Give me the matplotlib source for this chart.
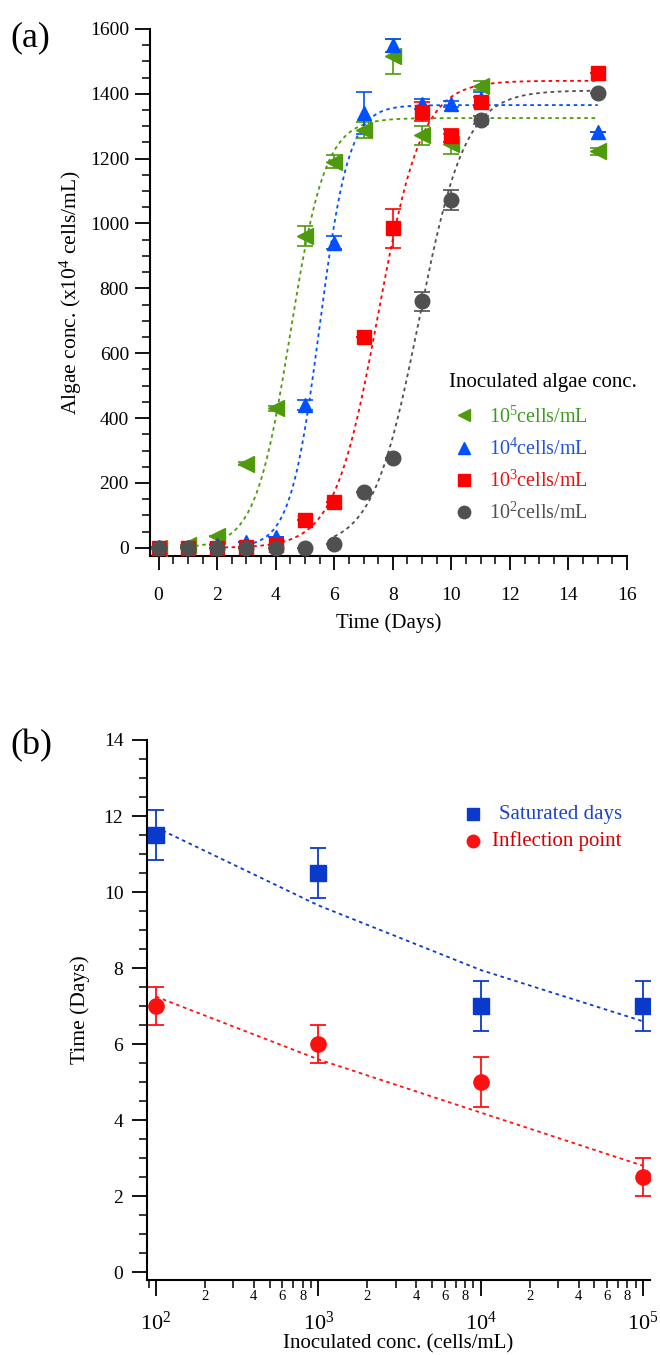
import numpy as np
import matplotlib
matplotlib.use("Agg")
import matplotlib.pyplot as plt
from matplotlib.ticker import MultipleLocator, LogLocator, FuncFormatter

plt.rcParams['font.family'] = ['Liberation Serif', 'DejaVu Serif']
plt.rcParams['mathtext.fontset'] = 'custom'
plt.rcParams['mathtext.rm'] = 'Liberation Serif'
plt.rcParams['mathtext.it'] = 'Liberation Serif:italic'

# ---- panel (a) data : growth curves ----
days = [0, 1, 2, 3, 4, 5, 6, 7, 8, 9, 10, 11, 15]
labels_a = ["10$^5$cells/mL", "10$^4$cells/mL", "10$^3$cells/mL", "10$^2$cells/mL"]
g5 = [0, 8, 37, 260, 430, 962, 1190, 1288, 1515, 1272, 1245, 1425, 1222]
g5_err = [0, 0, 0, 5, 8, 30, 20, 25, 55, 30, 30, 15, 10]
g4 = [3, 2, 10, 18, 32, 440, 940, 1340, 1550, 1368, 1368, 1385, 1282]
g4_err = [0, 0, 0, 0, 0, 15, 20, 65, 20, 15, 10, 20, 0]
g3 = [0, 0, 0, 2, 8, 85, 140, 651, 985, 1345, 1270, 1375, 1465]
g3_err = [0, 0, 0, 0, 0, 0, 0, 0, 60, 30, 20, 15, 0]
g2 = [0, 0, 0, 0, 0, 0, 12, 172, 276, 760, 1072, 1318, 1402]
g2_err = [0, 0, 0, 0, 0, 0, 0, 0, 0, 30, 30, 12, 0]

# Boltzmann fit parameters: plateau, midpoint, width, first day drawn
fit_plateau = [1325, 1365, 1440, 1410]
fit_mid = [4.5, 5.5, 7.5, 8.9]
fit_width = [0.6, 0.5, 0.75, 0.79]
fit_start = [1.0, 3.0, 2.0, 6.0]

# ---- panel (b) data ----
inoc = [1e2, 1e3, 1e4, 1e5]
sat_days = [11.5, 10.5, 7, 7]
sat_err = [0.65, 0.65, 0.65, 0.65]
infl = [7, 6, 5, 2.5]
infl_err = [0.5, 0.5, 0.65, 0.5]
sat_fit = [11.7, 9.65, 7.95, 6.6]
infl_fit = [7.25, 5.6, 4.2, 2.8]

colors_a = ['#4E9A0C', '#0050FF', '#FF0000', '#505050']
text_colors_a = ['#3C9A1E', '#2050E0', '#E81010', '#505050']
markers_a = ['<', '^', 's', 'o']
sizes_a = [11, 10.5, 10.5, 10.5]

fig = plt.figure(figsize=(6.6, 13.55), dpi=100)

# ---------------- (a) ----------------
ax = fig.add_axes([0.227, 0.5897, 0.723, 0.389])
series = [(g5, g5_err), (g4, g4_err), (g3, g3_err), (g2, g2_err)]
handles = []
for i, (vals, err) in enumerate(series):
    c = colors_a[i]
    # fitted curve
    xs = np.linspace(fit_start[i], 15, 300)
    ys = fit_plateau[i] / (1 + np.exp(-(xs - fit_mid[i]) / fit_width[i]))
    ax.plot(xs, ys, ls=(0, (2, 2)), color=c, lw=1.3, zorder=2)
    ax.errorbar(days, vals, yerr=err, fmt='none', ecolor=c, elinewidth=1.2,
                capsize=5.5, capthick=1.2, zorder=3)
    h, = ax.plot(days, vals, ls='none', marker=markers_a[i], ms=sizes_a[i],
                 color=c, mec=c, zorder=4)
    handles.append(h)

ax.set_xlim(-0.3, 16)
ax.set_ylim(-25, 1600)
ax.xaxis.set_major_locator(MultipleLocator(2))
ax.xaxis.set_minor_locator(MultipleLocator(0.5))
ax.yaxis.set_major_locator(MultipleLocator(200))
ax.yaxis.set_minor_locator(MultipleLocator(50))
ax.tick_params(axis='x', direction='out', labelsize=14, length=10, width=1.3, pad=12)
ax.tick_params(axis='y', direction='out', labelsize=14, length=11, width=1.3, pad=4)
ax.tick_params(which='minor', direction='out', length=5.5, width=1.1)
ax.spines['top'].set_visible(False)
ax.spines['right'].set_visible(False)
ax.spines['left'].set_linewidth(1.5)
ax.spines['bottom'].set_linewidth(1.5)
ax.set_xlabel('Time (Days)', fontsize=15, labelpad=7)
ax.set_ylabel('Algae conc. (x10$^4$ cells/mL)', fontsize=15.5, labelpad=4)

leg = ax.legend(handles, labels_a, title='Inoculated algae conc.', loc='lower left',
                bbox_to_anchor=(0.61, 0.045), frameon=False, fontsize=14.5,
                title_fontsize=15, handletextpad=0.5, labelspacing=0.55,
                markerscale=0.85, handlelength=1.5, borderaxespad=0)
leg._legend_box.align = 'left'
leg._legend_box.sep = 10
for t, c in zip(leg.get_texts(), text_colors_a):
    t.set_color(c)

fig.text(0.015, 0.972, '(a)', fontsize=26, va='center')

# ---------------- (b) ----------------
bx = fig.add_axes([0.2227, 0.0554, 0.762, 0.3985])
blue_b = '#0A3ACC'
red_b = '#FF1010'
bx.plot(inoc, sat_fit, ls=(0, (2, 2)), color=blue_b, lw=1.3, zorder=2)
bx.plot(inoc, infl_fit, ls=(0, (2, 2)), color=red_b, lw=1.3, zorder=2)
bx.errorbar(inoc, sat_days, yerr=sat_err, fmt='s', ms=11, color=blue_b,
            elinewidth=1.3, capsize=5.5, capthick=1.3, zorder=4)
bx.errorbar(inoc, infl, yerr=infl_err, fmt='o', ms=11, color=red_b,
            elinewidth=1.3, capsize=5.5, capthick=1.3, zorder=4)
bx.set_xscale('log')
bx.set_xlim(88, 1.1e5)
bx.set_ylim(-0.2, 14)
bx.yaxis.set_major_locator(MultipleLocator(2))
bx.yaxis.set_minor_locator(MultipleLocator(0.5))
bx.xaxis.set_major_locator(LogLocator(base=10, numticks=10))
bx.xaxis.set_minor_locator(LogLocator(base=10, subs=np.arange(2, 10), numticks=20))


def minor_fmt(v, pos):
    d = int(round(v / 10 ** np.floor(np.log10(v) + 1e-9)))
    return str(d) if d in (2, 4, 6, 8) else ''


def major_fmt(v, pos):
    return '10$^{%d}$' % int(round(np.log10(v)))


bx.xaxis.set_minor_formatter(FuncFormatter(minor_fmt))
bx.xaxis.set_major_formatter(FuncFormatter(major_fmt))
bx.tick_params(axis='x', which='major', direction='out', labelsize=16, length=11.5, width=1.3, pad=11)
bx.tick_params(axis='x', which='minor', direction='out', labelsize=10.5, length=5.5, width=1.1, pad=2)
bx.tick_params(axis='y', which='major', direction='out', labelsize=14, length=11, width=1.3, pad=6)
bx.tick_params(axis='y', which='minor', direction='out', length=5.5, width=1.1)
bx.spines['top'].set_visible(False)
bx.spines['right'].set_visible(False)
bx.spines['left'].set_linewidth(1.5)
bx.spines['bottom'].set_linewidth(1.5)
bx.set_xlabel('Inoculated conc. (cells/mL)', fontsize=15, labelpad=0)
bx.set_ylabel('Time (Days)', fontsize=15.5, labelpad=10)

# legend of (b): markers on the left, text flush right
leg_labels_b = ['Saturated days', 'Inflection point']
leg_marker_b = ['s', 'o']
leg_color_b = [blue_b, red_b]
leg_text_color_b = ['#1A44CC', '#D40000']
for k in range(2):
    yk = 0.862 - 0.05 * k
    bx.plot([0.649], [yk], marker=leg_marker_b[k], ms=9, color=leg_color_b[k],
            ls='none', transform=bx.transAxes, clip_on=False)
    bx.text(0.944, yk, leg_labels_b[k], transform=bx.transAxes, ha='right',
            va='center', fontsize=15, color=leg_text_color_b[k])

fig.text(0.015, 0.45, '(b)', fontsize=26, va='center')

fig.savefig('out.png', dpi=100)
